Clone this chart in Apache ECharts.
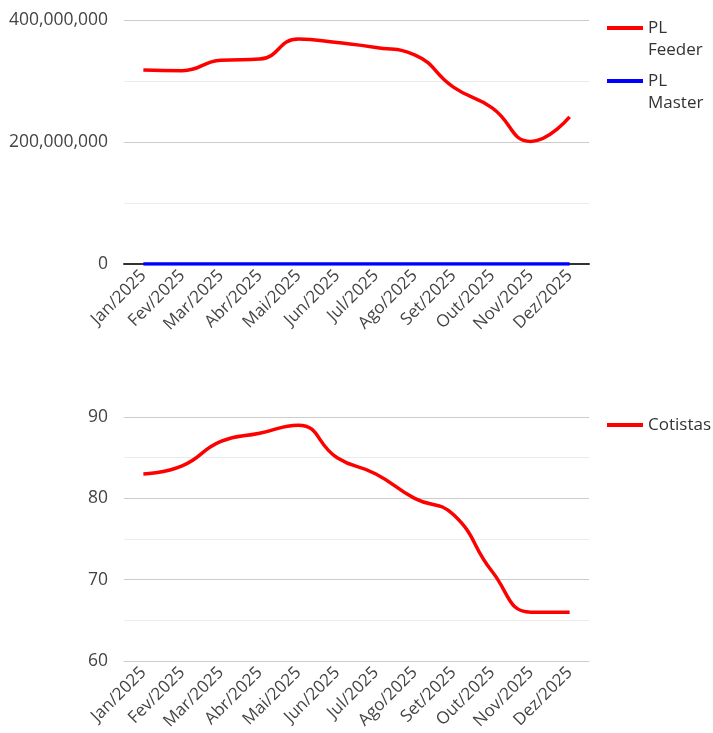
<!DOCTYPE html>
<html><head><meta charset="utf-8">
<script src="https://cdn.jsdelivr.net/npm/echarts@6/dist/echarts.min.js"></script>
<style>html,body{margin:0;padding:0;background:#fff}#c{width:713px;height:733px}</style>
</head><body><div id="c"></div>
<script>
const categories = ['Jan/2025','Fev/2025','Mar/2025','Abr/2025','Mai/2025','Jun/2025','Jul/2025','Ago/2025','Set/2025','Out/2025','Nov/2025','Dez/2025'];
const plFeeder = [318e6, 317e6, 334e6, 336e6, 369e6, 363e6, 355e6, 343e6, 290e6, 256e6, 201e6, 241e6];
const plMaster = [0,0,0,0,0,0,0,0,0,0,0,0];
const cotistas = [83, 84, 87, 88, 89, 85, 83, 80, 78, 71, 66, 66];

const FONT = '"Open Sans", sans-serif';
const chart = echarts.init(document.getElementById('c'), null, {renderer:'canvas'});
const xAxisBase = {
  type:'category', data:categories, boundaryGap:true,
  axisTick:{show:false},
  axisLabel:{rotate:45, color:'#444', fontSize:17, fontFamily:FONT, margin:9, interval:0}
};
const yBase = {
  type:'value',
  axisLabel:{color:'#444', fontSize:17.5, fontFamily:FONT, margin:16},
  splitLine:{lineStyle:{color:'#cccccc', width:1}},
  minorTick:{show:false, splitNumber:2},
  minorSplitLine:{show:true, lineStyle:{color:'#ebebeb', width:1}}
};
const legendBase = {
  orient:'vertical', left:607, padding:0, icon:'rect', itemWidth:36, itemHeight:4,
  textStyle:{color:'#333', fontSize:17, fontFamily:FONT, lineHeight:22},
  formatter: n => ' \n' + n.replace(' ', '\n')
};
chart.setOption({
  animation:false,
  grid:[
    {left:124, right:124, top:20, height:244},
    {left:124, right:124, top:417, height:244}
  ],
  xAxis:[
    Object.assign({gridIndex:0, axisLine:{lineStyle:{color:'#333', width:2}}}, xAxisBase),
    Object.assign({gridIndex:1, axisLine:{lineStyle:{color:'#cccccc', width:1}}}, xAxisBase)
  ],
  yAxis:[
    Object.assign({}, yBase, {gridIndex:0, min:0, max:400e6, interval:200e6,
      axisLabel:Object.assign({}, yBase.axisLabel, {formatter: v => v.toLocaleString('en-US')})}),
    Object.assign({}, yBase, {gridIndex:1, min:60, max:90, interval:10})
  ],
  legend:[
    Object.assign({}, legendBase, {top:-5, data:['PL Feeder']}),
    Object.assign({}, legendBase, {top:48, data:['PL Master']}),
    Object.assign({}, legendBase, {top:414, data:['Cotistas'], formatter: n => n})
  ],
  series:[
    {name:'PL Feeder', type:'line', xAxisIndex:0, yAxisIndex:0, data:plFeeder, smooth:0.5, symbol:'none', lineStyle:{color:'#ff0000', width:3.5}, itemStyle:{color:'#ff0000'}},
    {name:'PL Master', type:'line', xAxisIndex:0, yAxisIndex:0, data:plMaster, smooth:0.5, symbol:'none', lineStyle:{color:'#0000ff', width:3.5}, itemStyle:{color:'#0000ff'}},
    {name:'Cotistas', type:'line', xAxisIndex:1, yAxisIndex:1, data:cotistas, smooth:0.5, symbol:'none', lineStyle:{color:'#ff0000', width:3.5}, itemStyle:{color:'#ff0000'}}
  ]
});
</script></body></html>
